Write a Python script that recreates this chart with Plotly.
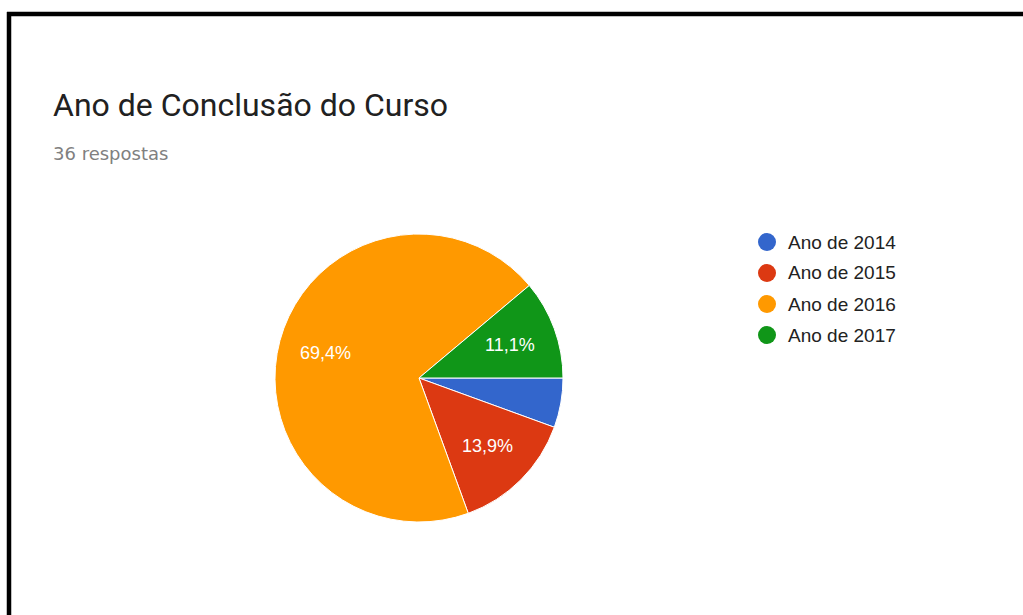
import math
import plotly.graph_objects as go

categories = ["Ano de 2014", "Ano de 2015", "Ano de 2016", "Ano de 2017"]
counts = [2, 5, 25, 4]
colors = ["#3366cc", "#dc3912", "#ff9900", "#109618"]
title_text = "Ano de Conclusão do Curso"
subtitle_text = "36 respostas"

W, H = 1023, 615
total = sum(counts)

# pie geometry (pixels)
CX, CY, R = 419, 378, 144

fig = go.Figure()
fig.add_trace(go.Pie(
    labels=categories, values=counts, sort=False, direction="clockwise", rotation=90,
    marker=dict(colors=colors, line=dict(color="white", width=1)),
    textinfo="none",
    domain=dict(x=[(CX - R) / W, (CX + R) / W], y=[1 - (CY + R) / H, 1 - (CY - R) / H]),
    showlegend=False, hoverinfo="label+percent",
))

# slice percentage labels, placed at 2/3 of the radius on each slice's mid-angle
cum = 0
for c in counts:
    p = c / total
    mid = (cum + p / 2) * 2 * math.pi  # clockwise from 3 o'clock
    cum += p
    if p < 0.08:
        continue
    px = CX + 0.67 * R * math.cos(mid)
    py = CY + 0.67 * R * math.sin(mid)
    fig.add_annotation(x=px / W, y=1 - py / H, xref="paper", yref="paper",
                       text=f"{p * 100:.1f}%".replace(".", ","), showarrow=False,
                       xanchor="center", yanchor="middle",
                       font=dict(family="Liberation Sans, Arial", size=18, color="white"))

# legend drawn manually with circles
leg_y = [242, 273, 304, 335]
for i, (cat, col) in enumerate(zip(categories, colors)):
    yc = 1 - leg_y[i] / H
    fig.add_shape(type="circle", xref="paper", yref="paper",
                  x0=(767 - 9) / W, x1=(767 + 9) / W, y0=yc - 9 / H, y1=yc + 9 / H,
                  fillcolor=col, line=dict(width=0))
    fig.add_annotation(x=786 / W, y=yc, xref="paper", yref="paper", text=cat,
                       showarrow=False, xanchor="left", yanchor="middle",
                       font=dict(family="Liberation Sans, Arial", size=19, color="#222222"))

fig.add_annotation(x=51 / W, y=1 - 105 / H, xref="paper", yref="paper", text=title_text,
                   showarrow=False, xanchor="left", yanchor="middle",
                   font=dict(family="Roboto", size=32, color="#212121"))
fig.add_annotation(x=51 / W, y=1 - 153 / H, xref="paper", yref="paper", text=subtitle_text,
                   showarrow=False, xanchor="left", yanchor="middle",
                   font=dict(family="DejaVu Sans", size=18, color="#808080"))

# frame lines (left and top)
fig.add_shape(type="line", xref="paper", yref="paper", x0=9 / W, x1=9 / W, y0=0, y1=1 - 12 / H,
              line=dict(color="black", width=4.5))
fig.add_shape(type="line", xref="paper", yref="paper", x0=7 / W, x1=1, y0=1 - 14 / H, y1=1 - 14 / H,
              line=dict(color="black", width=4.5))

fig.update_layout(width=W, height=H, margin=dict(l=0, r=0, t=0, b=0),
                  paper_bgcolor="white", plot_bgcolor="white")
fig.write_html("out.html", config={"displayModeBar": False},
               post_script="document.body.style.margin='0';document.body.style.overflow='hidden';")
